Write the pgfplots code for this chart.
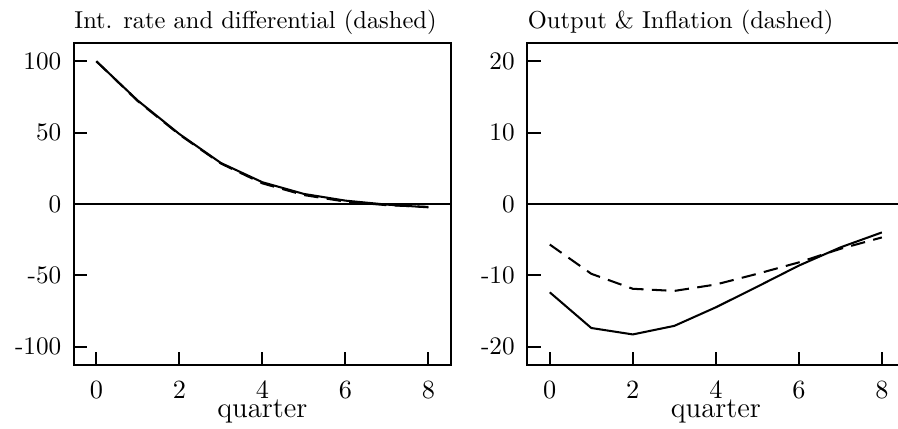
\documentclass[border=0pt]{standalone}
\usepackage{pgfplots}
\pgfplotsset{compat=1.18}
\begin{document}
\begin{tikzpicture}
\pgfplotsset{
  irf/.style={
    scale only axis, width=157pt, height=134.3pt,
    xmin=-0.54, xmax=8.54,
    xtick={0,2,4,6,8},
    tick align=inside, xtick pos=left, ytick pos=left,
    major tick length=5.5pt,
    axis line style={line width=0.8pt},
    every tick/.style={line width=0.8pt, black},
    tick label style={font=\fontsize{10.5}{12}\selectfont, inner sep=0pt},
    xticklabel style={anchor=north, yshift=-6.6pt},
    yticklabel style={anchor=east, xshift=-5.1pt},
    xlabel={quarter},
    xlabel style={at={(axis description cs:0.5,0)}, anchor=base, yshift=-21.8pt,
      inner sep=0pt, font=\fontsize{12}{14}\selectfont},
    title style={at={(axis description cs:0,1)}, anchor=base west, yshift=0pt,
      inner sep=0pt, font=\fontsize{10.2}{12}\selectfont},
    extra y ticks={0}, extra y tick labels={},
    extra y tick style={grid=major, major grid style={black, line width=0.8pt}},
  },
  solidline/.style={black, line width=0.85pt, no markers},
  dashline/.style={black, line width=0.85pt, no markers, dash pattern=on 6pt off 3.5pt},
}

% left panel
\begin{axis}[irf, at={(0,0)}, anchor=south west,
    title={Int. rate and differential (dashed)},
    ymin=-113, ymax=113,
    ytick={-100,-50,0,50,100},
    yticklabels={-100,-50,0,50,100}]
\addplot[dashline] coordinates {
  (0,100)(1,72)(2,48.6)(3,28.3)(4,14.4)(5,6.2)(6,1.6)(7,-0.9)(8,-2.1)};
\addplot[solidline] coordinates {
  (0,100)(1,72.4)(2,49)(3,28.7)(4,15.2)(5,7)(6,2.3)(7,-0.5)(8,-2.4)};
\end{axis}

% right panel
\begin{axis}[irf, at={(188.9pt,0)}, anchor=south west,
    title={Output \& Inflation (dashed)},
    ymin=-22.6, ymax=22.6,
    ytick={-20,-10,0,10,20},
    yticklabels={-20,-10,0,10,20}]
\addplot[dashline] coordinates {
  (0,-5.7)(1,-9.8)(2,-11.9)(3,-12.2)(4,-11.3)(5,-9.8)(6,-8.2)(7,-6.3)(8,-4.7)};
\addplot[solidline] coordinates {
  (0,-12.4)(1,-17.4)(2,-18.3)(3,-17.1)(4,-14.5)(5,-11.6)(6,-8.65)(7,-6.1)(8,-4.0)};
\end{axis}

\pgfresetboundingbox
\path[use as bounding box] (-30.8pt,-26.25pt) rectangle (343.3pt,152.1pt);
\end{tikzpicture}
\end{document}
